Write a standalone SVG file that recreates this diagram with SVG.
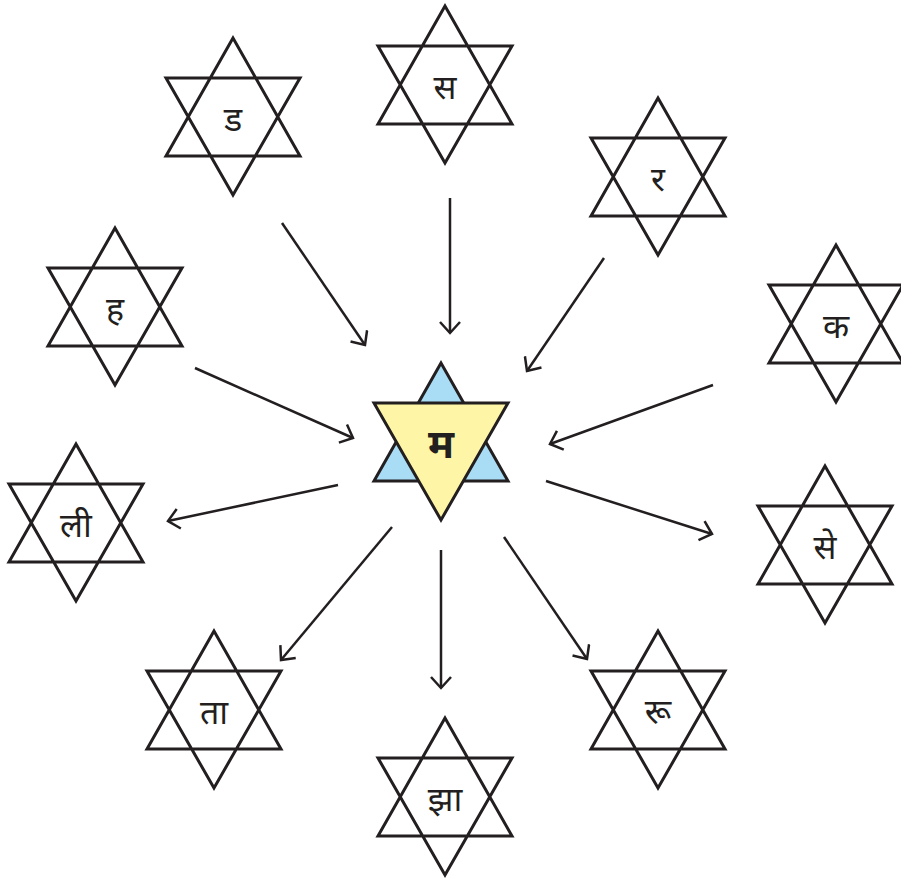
<svg xmlns="http://www.w3.org/2000/svg" xmlns:xlink="http://www.w3.org/1999/xlink" width="901" height="881" viewBox="0 0 901 881">
<style>
.st{fill:none;stroke:#231f20;stroke-width:3;stroke-linejoin:miter}
.lb{font-family:"Noto Sans","Noto Sans Devanagari",sans-serif;font-size:34px;fill:#231f20;text-anchor:middle}
.ctr{font-size:40px;font-weight:bold}
.ar{stroke:#231f20;stroke-width:2.5;fill:none;marker-end:url(#ah)}
</style>
<defs>
<path id="star" d="M0,-79 L-67,39 L67,39 Z M-67,-39 L67,-39 L0,78 Z"/>
<marker id="ah" markerUnits="userSpaceOnUse" markerWidth="22" markerHeight="22" refX="13" refY="11" orient="auto" viewBox="0 0 22 22">
<path d="M2,1 L13,11 L2,21" fill="none" stroke="#231f20" stroke-width="2.5"/>
</marker>
</defs>
<rect width="901" height="881" fill="#fff"/>
<g id="connectors">
<line class="ar" x1="282" y1="223" x2="365" y2="345"/>
<line class="ar" x1="450" y1="198" x2="450" y2="333"/>
<line class="ar" x1="604" y1="258" x2="527" y2="371"/>
<line class="ar" x1="195" y1="368" x2="353" y2="438"/>
<line class="ar" x1="713" y1="385" x2="550" y2="444"/>
<line class="ar" x1="546" y1="481" x2="712" y2="534"/>
<line class="ar" x1="338" y1="485" x2="168" y2="521"/>
<line class="ar" x1="392" y1="527" x2="281" y2="660"/>
<line class="ar" x1="441" y1="550" x2="441" y2="688"/>
<line class="ar" x1="504" y1="537" x2="587" y2="659"/>
</g>
<g id="center">
<path d="M441,363 L374,481 L508,481 Z" fill="#a9ddf6" stroke="#231f20" stroke-width="3"/>
<path d="M374,403 L508,403 L441,520 Z" fill="#fef6a6" stroke="#231f20" stroke-width="3"/>
<text class="lb ctr" x="441" y="458">म</text>
</g>
<g id="n-da"><use href="#star" class="st" x="233" y="117"/><text class="lb" x="233" y="131">ड</text></g>
<g id="n-sa"><use href="#star" class="st" x="445" y="85"/><text class="lb" x="445" y="99">स</text></g>
<g id="n-ra"><use href="#star" class="st" x="658" y="177"/><text class="lb" x="658" y="191">र</text></g>
<g id="n-ha"><use href="#star" class="st" x="115" y="307"/><text class="lb" x="115" y="321">ह</text></g>
<g id="n-ka"><use href="#star" class="st" x="836" y="324"/><text class="lb" x="836" y="338">क</text></g>
<g id="n-li"><use href="#star" class="st" x="76" y="523"/><text class="lb" x="76" y="537">ली</text></g>
<g id="n-se"><use href="#star" class="st" x="825" y="545"/><text class="lb" x="825" y="559">से</text></g>
<g id="n-ta"><use href="#star" class="st" x="214" y="710"/><text class="lb" x="214" y="724">ता</text></g>
<g id="n-jha"><use href="#star" class="st" x="445" y="797"/><text class="lb" x="445" y="811">झा</text></g>
<g id="n-ru"><use href="#star" class="st" x="658" y="710"/><text class="lb" x="658" y="724">रू</text></g>
</svg>
